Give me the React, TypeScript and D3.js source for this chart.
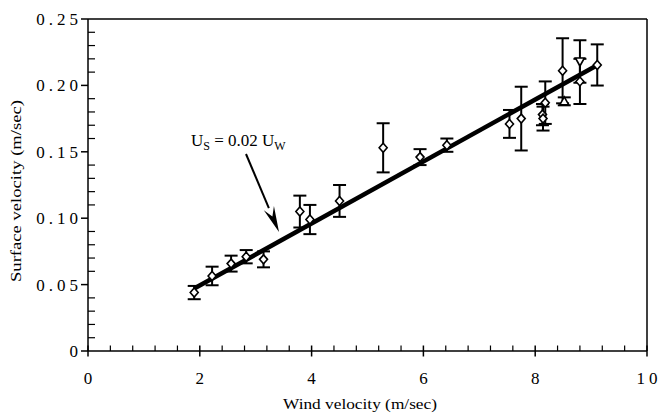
import React from 'react';
import * as d3 from 'd3';

// wind velocity (m/sec) and measured surface velocity (m/sec)
const windVel = [1.9, 2.22, 2.56, 2.83, 3.14, 3.79, 3.97, 4.5, 5.28, 5.94, 6.42, 7.54, 7.75, 8.13, 8.14, 8.18, 8.49, 8.52, 8.8, 8.8, 9.11];
const surfVel = [0.044, 0.0565, 0.0658, 0.071, 0.069, 0.105, 0.099, 0.113, 0.153, 0.146, 0.155, 0.171, 0.175, 0.178, 0.175, 0.187, 0.211, 0.188, 0.218, 0.203, 0.2154];
const errBar = [0.005, 0.007, 0.006, 0.005, 0.006, 0.012, 0.011, 0.012, 0.0185, 0.006, 0.005, 0.0105, 0.024, 0.008, 0.009, 0.016, 0.0245, 0.003, 0.016, 0.017, 0.0155];
const markerType = ['d', 'd', 'd', 'd', 'd', 'd', 'd', 'd', 'd', 'd', 'd', 'd', 'd', 'd', 'd', 'd', 'd', 'up', 'down', 'd', 'd'];

// fitted line Us = 0.02 Uw
const fitX = [1.9, 9.1];
const fitY = [0.047, 0.215];

const xMajor = [0, 2, 4, 6, 8, 10];
const yMajor = [0, 0.05, 0.1, 0.15, 0.2, 0.25];
const yLabels = ['0', '0.05', '0.10', '0.15', '0.20', '0.25'];

const FONT = '"Liberation Serif", "Times New Roman", serif';

// spaced-out digits like the original, one tspan per character
const spaced = (sel: any, str: string, gap: number) => {
  str.split('').forEach((c, i) => {
    sel.append('tspan').attr('dx', i === 0 ? 0 : gap).text(c);
  });
};

export default function App() {
  const ref = React.useRef<SVGSVGElement>(null);

  React.useEffect(() => {
    const svg = d3.select(ref.current);
    svg.selectAll('*').remove();

    const x = d3.scaleLinear().domain([0, 10]).range([88, 647]);
    const y = d3.scaleLinear().domain([0, 0.25]).range([351, 19]);

    const g = svg.append('g');

    // frame
    g.append('line').attr('x1', x(0)).attr('x2', x(10)).attr('y1', y(0.25)).attr('y2', y(0.25))
      .attr('stroke', '#000').attr('stroke-width', 1.5);
    g.append('line').attr('x1', x(10)).attr('x2', x(10)).attr('y1', y(0.25)).attr('y2', y(0))
      .attr('stroke', '#000').attr('stroke-width', 1.5);
    g.append('line').attr('x1', x(0)).attr('x2', x(10)).attr('y1', y(0)).attr('y2', y(0))
      .attr('stroke', '#000').attr('stroke-width', 1.5);
    g.append('line').attr('x1', x(0)).attr('x2', x(0)).attr('y1', y(0.25)).attr('y2', y(0))
      .attr('stroke', '#000').attr('stroke-width', 1.5);

    // x ticks
    const xMinor = d3.range(0, 10.001, 0.4).filter(v => Math.abs(v / 2 - Math.round(v / 2)) > 1e-6);
    g.selectAll('.xminor').data(xMinor).enter().append('line')
      .attr('x1', d => x(d)).attr('x2', d => x(d)).attr('y1', y(0)).attr('y2', y(0) - 5.5)
      .attr('stroke', '#000').attr('stroke-width', 1.2);
    g.selectAll('.xmajor').data(xMajor).enter().append('line')
      .attr('x1', d => x(d)).attr('x2', d => x(d)).attr('y1', y(0) - 5.5).attr('y2', y(0) + 5.5)
      .attr('stroke', '#000').attr('stroke-width', 1.5);
    xMajor.forEach(d => {
      const t = g.append('text')
        .attr('x', x(d)).attr('y', 384)
        .attr('text-anchor', 'middle').attr('font-family', FONT).attr('font-size', 17);
      spaced(t, String(d), 4);
    });

    // y ticks
    const yMinor = d3.range(0, 0.2501, 0.01).filter(v => Math.abs(v / 0.05 - Math.round(v / 0.05)) > 1e-6);
    g.selectAll('.yminor').data(yMinor).enter().append('line')
      .attr('x1', x(0)).attr('x2', x(0) + 7).attr('y1', d => y(d)).attr('y2', d => y(d))
      .attr('stroke', '#000').attr('stroke-width', 1.2);
    g.selectAll('.ymajor').data(yMajor).enter().append('line')
      .attr('x1', x(0) - 7).attr('x2', x(0)).attr('y1', d => y(d)).attr('y2', d => y(d))
      .attr('stroke', '#000').attr('stroke-width', 1.5);
    yMajor.forEach((d, i) => {
      const t = g.append('text')
        .attr('x', 78).attr('y', y(d)).attr('dy', '0.35em')
        .attr('text-anchor', 'end').attr('font-family', FONT).attr('font-size', 17);
      spaced(t, yLabels[i], 4);
    });

    // axis titles
    g.append('text').attr('x', 360).attr('y', 409).attr('text-anchor', 'middle')
      .attr('font-family', FONT).attr('font-size', 15)
      .attr('textLength', 154).attr('lengthAdjust', 'spacingAndGlyphs')
      .text('Wind velocity (m/sec)');
    g.append('text').attr('transform', 'translate(21,191) rotate(-90)').attr('text-anchor', 'middle')
      .attr('font-family', FONT).attr('font-size', 15)
      .attr('textLength', 182).attr('lengthAdjust', 'spacingAndGlyphs')
      .text('Surface velocity (m/sec)');

    // fit line
    const line = d3.line<number>().x((d, i) => x(fitX[i])).y(d => y(d));
    g.append('path').datum(fitY).attr('d', line).attr('fill', 'none')
      .attr('stroke', '#000').attr('stroke-width', 4.5);

    const pts = windVel.map((v, i) => ({ x: v, y: surfVel[i], e: errBar[i], m: markerType[i] }));

    // error bars
    const eb = g.selectAll('.err').data(pts).enter().append('g');
    eb.append('line').attr('x1', d => x(d.x)).attr('x2', d => x(d.x))
      .attr('y1', d => y(d.y - d.e)).attr('y2', d => y(d.y + d.e))
      .attr('stroke', '#000').attr('stroke-width', 2);
    eb.append('line').attr('x1', d => x(d.x) - 6.5).attr('x2', d => x(d.x) + 6.5)
      .attr('y1', d => y(d.y + d.e)).attr('y2', d => y(d.y + d.e))
      .attr('stroke', '#000').attr('stroke-width', 2);
    eb.append('line').attr('x1', d => x(d.x) - 6.5).attr('x2', d => x(d.x) + 6.5)
      .attr('y1', d => y(d.y - d.e)).attr('y2', d => y(d.y - d.e))
      .attr('stroke', '#000').attr('stroke-width', 2);

    // markers
    g.selectAll('.pt').data(pts).enter().append('path')
      .attr('transform', d => `translate(${x(d.x)},${y(d.y)})`)
      .attr('d', d => {
        if (d.m === 'up') return 'M0,-4.5L4.5,3.5L-4.5,3.5Z';
        if (d.m === 'down') return 'M0,4.5L4.5,-3.5L-4.5,-3.5Z';
        return 'M0,-4.5L4,0L0,4.5L-4,0Z';
      })
      .attr('fill', '#fff').attr('stroke', '#000').attr('stroke-width', 1.6);

    // annotation arrow
    const ax0 = 246, ay0 = 154, ax1 = 279, ay1 = 232;
    const ang = Math.atan2(ay1 - ay0, ax1 - ax0);
    const hl = 26, hw = 5.5;
    const bx = ax1 - hl * Math.cos(ang), by = ay1 - hl * Math.sin(ang);
    g.append('line').attr('x1', ax0).attr('y1', ay0).attr('x2', bx).attr('y2', by)
      .attr('stroke', '#000').attr('stroke-width', 2);
    g.append('path')
      .attr('d', `M${ax1},${ay1}L${bx - hw * Math.sin(ang)},${by + hw * Math.cos(ang)}L${bx + 0.35 * hl * Math.cos(ang)},${by + 0.35 * hl * Math.sin(ang)}L${bx + hw * Math.sin(ang)},${by - hw * Math.cos(ang)}Z`)
      .attr('fill', '#000');

    const t = g.append('text').attr('x', 191).attr('y', 146)
      .attr('font-family', FONT).attr('font-size', 17);
    t.append('tspan').text('U');
    t.append('tspan').attr('dy', 4).attr('font-size', 12).text('S');
    t.append('tspan').attr('dy', -4).text(' = 0.02 U');
    t.append('tspan').attr('dy', 4).attr('font-size', 12).text('W');
  }, []);

  return (
    <svg ref={ref} width={659} height={415}
      style={{ position: 'absolute', left: 0, top: 0, background: '#fff' }} />
  );
}
